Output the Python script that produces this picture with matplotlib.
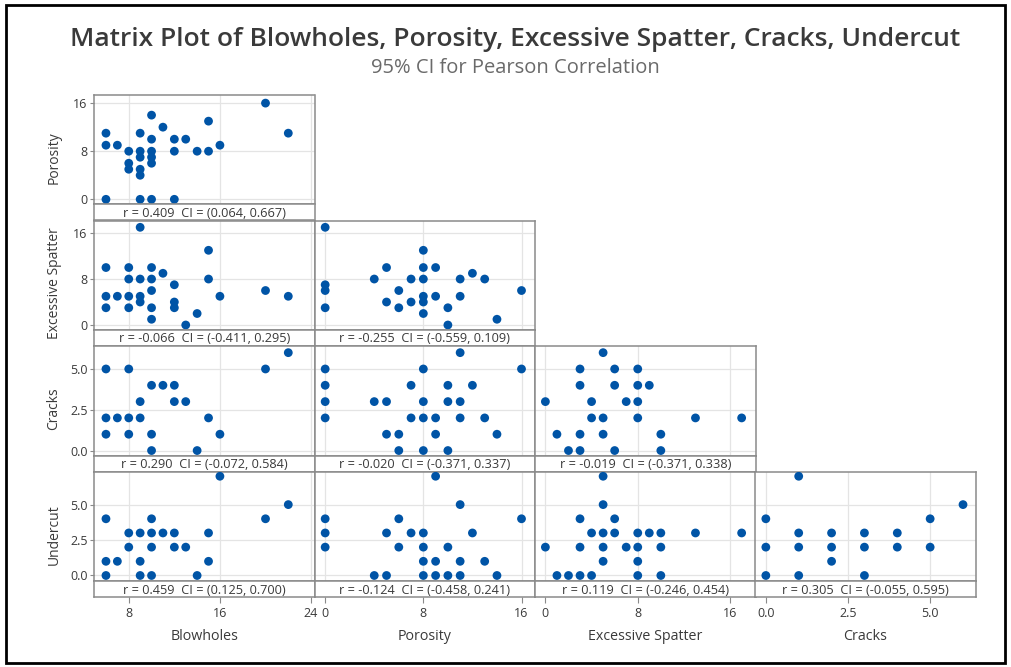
import matplotlib
matplotlib.use("Agg")
import matplotlib.pyplot as plt
from matplotlib.patches import Rectangle

plt.rcParams['font.family'] = ['Open Sans', 'DejaVu Sans']

# ---------------- data ----------------
variables = ["Blowholes", "Porosity", "Excessive Spatter", "Cracks", "Undercut"]
ticks = {
    "Blowholes": [8, 16, 24],
    "Porosity": [0, 8, 16],
    "Excessive Spatter": [0, 8, 16],
    "Cracks": [0.0, 2.5, 5.0],
    "Undercut": [0.0, 2.5, 5.0],
}
tick_labels = {
    "Blowholes": ["8", "16", "24"],
    "Porosity": ["0", "8", "16"],
    "Excessive Spatter": ["0", "8", "16"],
    "Cracks": ["0.0", "2.5", "5.0"],
    "Undercut": ["0.0", "2.5", "5.0"],
}
limits_x = {
    "Blowholes": (4.95, 24.3),
    "Porosity": (-0.87, 17.1),
    "Excessive Spatter": (-0.9, 18.2),
    "Cracks": (-0.33, 6.38),
}
limits_y = {
    "Porosity": (-0.83, 17.35),
    "Excessive Spatter": (-0.87, 18.15),
    "Cracks": (-0.31, 6.39),
    "Undercut": (-0.41, 7.3),
}

por_blow_x = [6, 6, 6, 7, 8, 8, 8, 9, 9, 9, 9, 9, 9, 10, 10, 10, 10, 10, 10, 11, 12, 12, 12, 13, 14, 15, 15, 16, 20, 22]
por_blow_y = [11, 9, 0, 9, 8, 6, 5, 11, 8, 7, 5, 4, 0, 14, 10, 8, 7, 6, 0, 12, 10, 8, 0, 10, 8, 13, 8, 9, 16, 11]

spa_blow_x = [6, 6, 6, 7, 8, 8, 8, 8, 9, 9, 9, 9, 10, 10, 10, 10, 10, 11, 12, 12, 12, 13, 14, 15, 15, 16, 20, 22]
spa_blow_y = [10, 5, 3, 5, 10, 8, 5, 3, 17, 8, 5, 4, 10, 8, 6, 3, 1, 9, 7, 4, 3, 0, 2, 13, 8, 5, 6, 5]

spa_por_x = [0, 0, 0, 0, 4, 5, 5, 6, 6, 7, 7, 8, 8, 8, 8, 8, 8, 9, 9, 10, 10, 11, 11, 12, 13, 14, 16]
spa_por_y = [17, 7, 6, 3, 8, 10, 4, 6, 3, 8, 4, 13, 10, 8, 5, 4, 2, 10, 5, 3, 0, 8, 5, 9, 8, 1, 6]

cra_blow_x = [6, 6, 6, 7, 8, 8, 8, 9, 9, 10, 10, 10, 11, 12, 12, 13, 14, 15, 16, 20, 22]
cra_blow_y = [5, 2, 1, 2, 5, 2, 1, 3, 2, 4, 1, 0, 4, 4, 3, 3, 0, 2, 1, 5, 6]

cra_por_x = [0, 0, 0, 0, 4, 5, 5, 6, 6, 7, 7, 8, 8, 8, 8, 9, 9, 10, 10, 10, 11, 11, 11, 12, 13, 14, 16]
cra_por_y = [5, 4, 3, 2, 3, 3, 1, 1, 0, 4, 2, 5, 3, 2, 0, 2, 1, 4, 3, 0, 6, 3, 2, 4, 2, 1, 5]

cra_spa_x = [0, 1, 2, 3, 3, 3, 3, 4, 4, 5, 5, 5, 6, 6, 6, 7, 8, 8, 8, 8, 9, 10, 10, 13, 17]
cra_spa_y = [3, 1, 0, 5, 4, 1, 0, 3, 2, 6, 2, 1, 5, 4, 0, 3, 5, 4, 3, 2, 4, 1, 0, 2, 2]

und_blow_x = [6, 6, 6, 7, 8, 8, 9, 9, 9, 10, 10, 10, 10, 11, 12, 12, 13, 14, 15, 15, 16, 20, 22]
und_blow_y = [4, 1, 0, 1, 3, 2, 3, 1, 0, 4, 3, 2, 0, 3, 3, 2, 2, 0, 3, 1, 7, 4, 5]

und_por_x = [0, 0, 0, 4, 5, 5, 6, 6, 7, 8, 8, 8, 8, 9, 9, 9, 10, 10, 11, 11, 11, 12, 13, 14, 16]
und_por_y = [4, 3, 2, 0, 3, 0, 4, 2, 3, 3, 2, 1, 0, 7, 1, 0, 2, 0, 5, 1, 0, 3, 1, 0, 4]

und_spa_x = [0, 1, 2, 3, 3, 3, 4, 4, 5, 5, 5, 5, 5, 6, 6, 7, 8, 8, 8, 8, 9, 10, 10, 10, 13, 17]
und_spa_y = [2, 0, 0, 4, 2, 0, 3, 0, 7, 5, 3, 2, 1, 4, 3, 2, 3, 2, 1, 0, 3, 3, 2, 0, 3, 3]

und_cra_x = [0, 0, 0, 1, 1, 1, 1, 2, 2, 2, 3, 3, 3, 4, 4, 5, 5, 6]
und_cra_y = [4, 2, 0, 7, 3, 2, 0, 3, 2, 1, 3, 2, 0, 3, 2, 4, 2, 5]

corr_texts = {
    (1, 0): "r = 0.409  CI = (0.064, 0.667)",
    (2, 0): "r = -0.066  CI = (-0.411, 0.295)",
    (2, 1): "r = -0.255  CI = (-0.559, 0.109)",
    (3, 0): "r = 0.290  CI = (-0.072, 0.584)",
    (3, 1): "r = -0.020  CI = (-0.371, 0.337)",
    (3, 2): "r = -0.019  CI = (-0.371, 0.338)",
    (4, 0): "r = 0.459  CI = (0.125, 0.700)",
    (4, 1): "r = -0.124  CI = (-0.458, 0.241)",
    (4, 2): "r = 0.119  CI = (-0.246, 0.454)",
    (4, 3): "r = 0.305  CI = (-0.055, 0.595)",
}
panel_data = {
    (1, 0): (por_blow_x, por_blow_y),
    (2, 0): (spa_blow_x, spa_blow_y),
    (2, 1): (spa_por_x, spa_por_y),
    (3, 0): (cra_blow_x, cra_blow_y),
    (3, 1): (cra_por_x, cra_por_y),
    (3, 2): (cra_spa_x, cra_spa_y),
    (4, 0): (und_blow_x, und_blow_y),
    (4, 1): (und_por_x, und_por_y),
    (4, 2): (und_spa_x, und_spa_y),
    (4, 3): (und_cra_x, und_cra_y),
}

# ---------------- layout ----------------
W, H = 1011, 667
fig = plt.figure(figsize=(W / 100, H / 100), dpi=100)
fig.patch.set_facecolor("white")

def px_axes(x0, y0, w, h):
    return fig.add_axes([x0 / W, 1 - (y0 + h) / H, w / W, h / H])

col_left = [94, 314.5, 535, 755]
col_w = 220.5
row_top = [95, 220.7, 346.3, 472]
row_h = 125.3
strip_h = 16
SPINE = "#8a8a8a"
GRID = "#e4e4e4"
BLUE = "#0054a6"
TXT = "#3a3a3a"

for (ri, ci), (xs, ys) in panel_data.items():
    xv = variables[ci]
    yv = variables[ri]
    r = ri - 1
    x0 = col_left[ci]
    y0 = row_top[r]
    ax = px_axes(x0, y0, col_w, row_h - strip_h)
    sx = px_axes(x0, y0 + row_h - strip_h, col_w, strip_h)

    ax.set_xlim(*limits_x[xv])
    ax.set_ylim(*limits_y[yv])
    ax.set_xticks(ticks[xv])
    ax.set_yticks(ticks[yv])
    ax.grid(True, color=GRID, lw=0.9, zorder=0)
    ax.set_axisbelow(True)
    ax.scatter(xs, ys, s=40, color=BLUE, edgecolors="none", zorder=3)
    for sp in ax.spines.values():
        sp.set_color(SPINE)
        sp.set_linewidth(1.1)
    ax.tick_params(axis="x", length=0, labelbottom=False)
    if ci == 0:
        ax.set_yticklabels(tick_labels[yv])
        ax.tick_params(axis="y", direction="out", length=3, width=0.8,
                       color=SPINE, labelsize=9, labelcolor=TXT, pad=1.5)
        fig.text((x0 - 40) / W, 1 - (y0 + row_h / 2) / H, yv, rotation=90,
                 ha="center", va="center", fontsize=10, color=TXT)
    else:
        ax.tick_params(axis="y", length=0, labelleft=False)

    sx.set_xlim(*limits_x[xv])
    sx.set_ylim(0, 1)
    sx.set_yticks([])
    sx.set_facecolor("white")
    for sp in sx.spines.values():
        sp.set_color(SPINE)
        sp.set_linewidth(1.1)
    sx.text(0.5, 0.45, corr_texts[(ri, ci)], transform=sx.transAxes,
            ha="center", va="center", fontsize=9.2, color=TXT)
    if ri == 4:
        sx.set_xticks(ticks[xv])
        sx.set_xticklabels(tick_labels[xv])
        sx.tick_params(axis="x", direction="out", length=4, width=0.8,
                       color=SPINE, labelsize=9, labelcolor=TXT, pad=3)
        fig.text((x0 + col_w / 2) / W, 1 - 637 / H, xv, ha="center",
                 va="center", fontsize=10.3, color=TXT)
    else:
        sx.set_xticks([])

fig.text(515 / W, 1 - 40 / H,
         "Matrix Plot of Blowholes, Porosity, Excessive Spatter, Cracks, Undercut",
         ha="center", va="center", fontsize=19, fontweight="semibold", color="#3a3a3a")
fig.text(515 / W, 1 - 68 / H, "95% CI for Pearson Correlation",
         ha="center", va="center", fontsize=14.5, color="#6a6a6a")

fig.add_artist(Rectangle((6 / W, 1 - 663 / H), (1005 - 6) / W, (663 - 5) / H,
                         transform=fig.transFigure, fill=False,
                         edgecolor="black", lw=2.0))

fig.savefig("out.png", dpi=100)
